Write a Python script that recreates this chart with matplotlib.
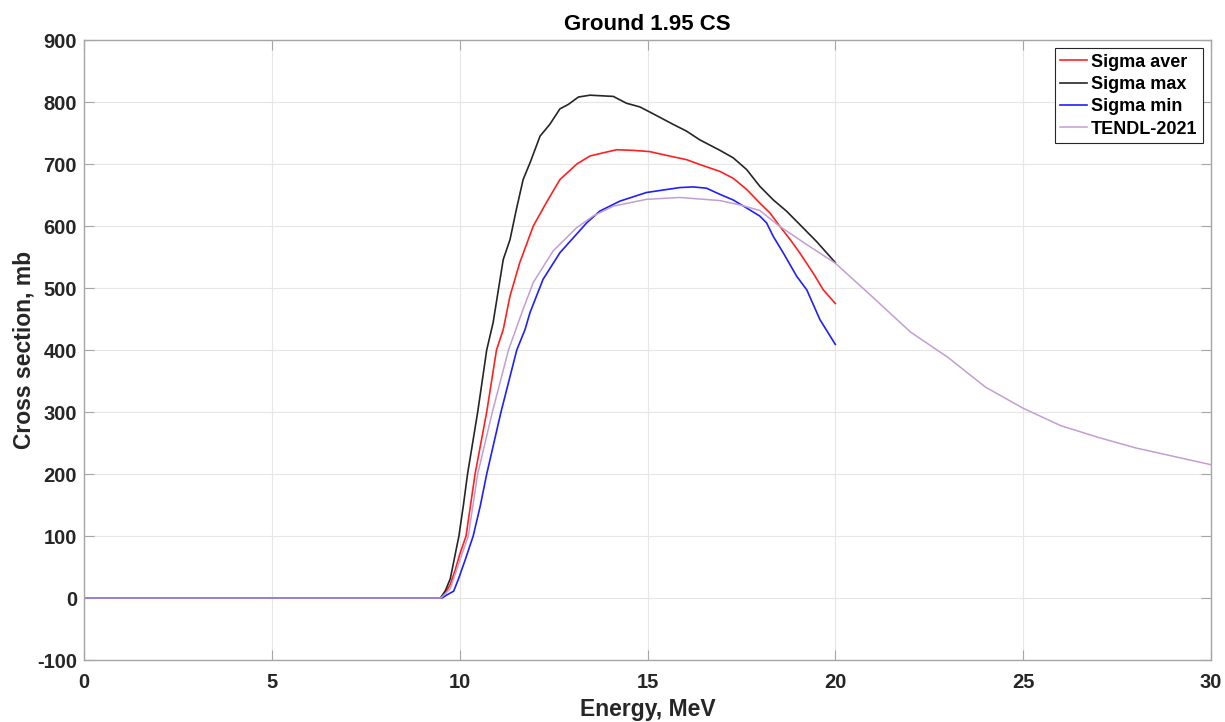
import matplotlib
matplotlib.use("Agg")
import matplotlib.pyplot as plt

# ---- data ----
E_max = [0, 9.49, 9.62, 9.75, 9.84, 9.98, 10.1, 10.21, 10.48, 10.72, 10.89, 11.16, 11.34,
         11.51, 11.69, 11.88, 12.14, 12.4, 12.67, 12.89, 13.16, 13.47, 13.78, 14.09, 14.44,
         14.8, 15.15, 15.68, 16.04, 16.39, 16.93, 17.28, 17.64, 17.99, 18.35, 18.7, 19.06,
         19.5, 20.0]
S_max = [0, 0, 12, 31, 58, 100, 150, 200, 300, 400, 444, 546, 578,
         627, 675, 703, 745, 764, 789, 796, 808, 811, 810, 809, 798,
         792, 781, 764, 753, 739, 722, 710, 691, 664, 642, 624, 602,
         575, 541]

E_avg = [0, 9.49, 9.62, 9.75, 9.88, 10.0, 10.17, 10.41, 10.72, 10.98, 11.16, 11.34, 11.6,
         11.96, 12.31, 12.67, 13.12, 13.47, 13.82, 14.18, 14.62, 15.06, 15.5, 16.04, 16.4,
         16.93, 17.28, 17.64, 17.99, 18.26, 18.53, 18.8, 19.06, 19.41, 19.68, 20.0]
S_avg = [0, 0, 8, 22, 45, 70, 100, 200, 300, 400, 433, 487, 541,
         600, 638, 675, 700, 713, 718, 723, 722, 720, 714, 707, 699,
         688, 677, 659, 637, 621, 599, 578, 556, 524, 497, 475]

E_min = [0, 9.53, 9.66, 9.84, 9.97, 10.15, 10.36, 10.55, 10.72, 11.1, 11.52, 11.74, 11.87,
         12.22, 12.67, 13.38, 13.73, 14.26, 14.97, 15.86, 16.22, 16.57, 16.93, 17.28, 17.64,
         17.99, 18.17, 18.35, 18.62, 18.97, 19.24, 19.59, 20.0]
S_min = [0, 0, 5, 11, 31, 62, 100, 149, 200, 300, 400, 433, 460,
         514, 557, 605, 624, 640, 654, 662, 663, 661, 651, 642, 629,
         616, 605, 583, 556, 519, 497, 449, 409]

E_tendl = [0, 9.5, 9.75, 10.0, 10.23, 10.48, 10.87, 11.3, 11.69, 11.96, 12.49, 13.11, 13.55,
           14.09, 14.97, 15.86, 16.93, 17.46, 17.99, 18.53, 19.24, 20, 21, 22, 23, 24, 25,
           26, 27, 28, 30]
S_tendl = [0, 0, 15, 60, 100, 200, 300, 400, 466, 509, 560, 597, 616,
           632, 643, 646, 641, 634, 625, 599, 570, 540, 485, 429, 388, 340, 306,
           278, 259, 242, 215]

labels = ["Sigma aver", "Sigma max", "Sigma min", "TENDL-2021"]
x_ticks = [0, 5, 10, 15, 20, 25, 30]
y_ticks = [-100, 0, 100, 200, 300, 400, 500, 600, 700, 800, 900]

plt.rcParams['font.family'] = ['Liberation Sans', 'DejaVu Sans']
plt.rcParams['font.weight'] = 'bold'
plt.rcParams['axes.unicode_minus'] = False

fig = plt.figure(figsize=(12.25, 7.22), dpi=100)
ax = fig.add_axes([84/1225, 1 - 660/722, (1211-84)/1225, (660-40)/722])

ax.plot(E_avg, S_avg, color='#ff2020', lw=1.2, label=labels[0])
ax.plot(E_max, S_max, color='#262626', lw=1.2, label=labels[1])
ax.plot(E_min, S_min, color='#1f1fff', lw=1.2, label=labels[2])
ax.plot(E_tendl, S_tendl, color='#c29ed4', lw=1.1, label=labels[3])

ax.set_xlim(0, 30)
ax.set_ylim(-100, 900)
ax.set_xticks(x_ticks)
ax.set_yticks(y_ticks)
ax.grid(True, color='#e6e6e6', lw=0.8)
ax.set_axisbelow(True)

for s in ax.spines.values():
    s.set_color('#a6a6a6')
    s.set_linewidth(1.0)
ax.tick_params(direction='in', length=7, width=0.8, color='#a6a6a6',
               top=True, right=True, labelsize=14.5, labelcolor='#262626')
ax.tick_params(axis='x', pad=9)
ax.tick_params(axis='y', pad=5)
for lab in ax.get_xticklabels() + ax.get_yticklabels():
    lab.set_fontweight('bold')

ax.set_xlabel("Energy, MeV", fontsize=16.5, fontweight='bold', color='#262626', labelpad=5)
ax.set_ylabel("Cross section, mb", fontsize=16.5, fontweight='bold', color='#262626', labelpad=1)
ax.set_title("Ground 1.95 CS", fontsize=16, fontweight='bold', color='black', pad=7)

leg = ax.legend(loc='upper right', fontsize=13, frameon=True, fancybox=False,
                edgecolor='#262626', framealpha=1, handlelength=1.5, handletextpad=0.2,
                borderpad=0.3, labelspacing=0.3, borderaxespad=0.45)
leg.get_frame().set_linewidth(0.8)
for t in leg.get_texts():
    t.set_fontweight('bold')

fig.savefig("out.png", dpi=100)
